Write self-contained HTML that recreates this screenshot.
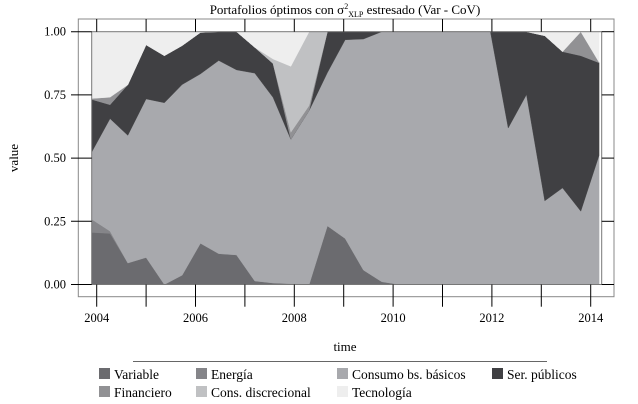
<!DOCTYPE html>
<html><head><meta charset="utf-8"><style>
body{margin:0;background:#fff;width:638px;height:404px;overflow:hidden}
svg{display:block;font-family:"Liberation Serif",serif}
</style></head><body>
<svg id="chart" width="638" height="404" viewBox="0 0 638 404">
<text x="345" y="14" text-anchor="middle" font-size="13">Portafolios óptimos con σ<tspan dy="-5" font-size="8">2</tspan><tspan dy="8" font-size="8">XLP</tspan><tspan dy="-3"> estresado (Var - CoV)</tspan></text>
<rect x="78.3" y="19" width="535.7" height="277.7" fill="none" stroke="#888" stroke-width="1"/>
<g id="areas"></g>
<rect x="91.7" y="31.7" width="510" height="252.8" fill="none" stroke="#777" stroke-width="1"/>
<g id="axes" stroke="#000" stroke-width="1"></g>
<text x="18" y="158" transform="rotate(-90 18 158)" text-anchor="middle" font-size="13">value</text>
<text x="345" y="351" text-anchor="middle" font-size="13">time</text>
<line x1="133" y1="361.5" x2="547" y2="361.5" stroke="#666" stroke-width="1"/>
<g id="legend"></g>
</svg>
<script>
const times=[2003.9,2004.27,2004.63,2005.0,2005.37,2005.73,2006.1,2006.47,2006.83,2007.2,2007.57,2007.93,2008.3,2008.67,2009.03,2009.4,2009.77,2010.13,2010.5,2010.87,2011.23,2011.6,2011.97,2012.33,2012.7,2013.07,2013.43,2013.8,2014.17];
const seriesNames=["Variable","Energía","Consumo bs. básicos","Ser. públicos","Financiero","Cons. discrecional","Tecnología"];
const variable=[0.206,0.202,0.085,0.107,0,0.037,0.163,0.122,0.117,0.014,0.006,0.003,0,0.232,0.182,0.057,0.011,0,0,0,0,0,0,0,0,0,0,0,0];
const energia=[0.052,0.009,0,0,0,0,0,0,0,0,0,0,0,0,0,0,0,0,0,0,0,0,0,0,0,0,0,0,0];
const consumo=[0.266,0.445,0.505,0.627,0.719,0.754,0.670,0.764,0.732,0.822,0.734,0.571,0.688,0.606,0.786,0.914,0.989,1,1,1,1,1,1,0.619,0.751,0.331,0.382,0.290,0.511];
const serPublicos=[0.208,0.055,0.200,0.214,0.186,0.154,0.164,0.114,0.151,0.102,0.134,0,0,0.162,0.032,0.029,0,0,0,0,0,0,0,0.381,0.249,0.653,0.539,0.615,0.366];
const financiero=[0.004,0.030,0,0,0,0,0,0,0,0,0,0.028,0.020,0,0,0,0,0,0,0,0,0,0,0,0,0,0,0.095,0.002];
const consDisc=[0,0,0,0,0,0,0,0,0,0,0.018,0.261,0.292,0,0,0,0,0,0,0,0,0,0,0,0,0,0,0,0];
const tecnologia=[0.264,0.259,0.210,0.052,0.095,0.055,0.003,0,0,0.062,0.108,0.137,0,0,0,0,0,0,0,0,0,0,0,0,0,0.016,0.079,0,0.121];
const yTicks=[0,0.25,0.5,0.75,1];
const yTickLabels=["0.00","0.25","0.50","0.75","1.00"];
const xTicks=[2004,2005,2006,2007,2008,2009,2010,2011,2012,2013,2014];
const xLabelYears=[2004,2006,2008,2010,2012,2014];

const colors=["#6b6b6f","#858589","#a8a9ad","#404043","#919194","#c0c1c3","#eeeeee"];
const slugs=["variable","energia","consumo","ser-publicos","financiero","cons-discrecional","tecnologia"];
const NS="http://www.w3.org/2000/svg";
function xs(t){return 96.7+(t-2004)*49.4;}
function ys(v){return 284.5-v*252.8;}
const layers=[variable,energia,consumo,serPublicos,financiero,consDisc,tecnologia];
const areas=document.getElementById('areas');
let base=times.map(()=>0);
layers.forEach((arr,k)=>{
  const top=base.map((b,i)=>b+arr[i]);
  let d="";
  times.forEach((t,i)=>{d+=(i?"L":"M")+xs(t).toFixed(2)+","+ys(top[i]).toFixed(2);});
  for(let i=times.length-1;i>=0;i--){d+="L"+xs(times[i]).toFixed(2)+","+ys(base[i]).toFixed(2);}
  d+="Z";
  const p=document.createElementNS(NS,'path');
  p.setAttribute('d',d);p.setAttribute('fill',colors[k]);
  p.setAttribute('stroke',colors[k]);p.setAttribute('stroke-width','0.4');
  
  
  areas.appendChild(p);
  base=top;
});
const axes=document.getElementById('axes');
function line(x1,y1,x2,y2,name){
  const l=document.createElementNS(NS,'line');
  l.setAttribute('x1',x1);l.setAttribute('y1',y1);l.setAttribute('x2',x2);l.setAttribute('y2',y2);
  
  
  axes.appendChild(l);
}
function text(x,y,s,anchor,name,parent,size){
  const t=document.createElementNS(NS,'text');
  t.setAttribute('x',x);t.setAttribute('y',y);t.setAttribute('text-anchor',anchor);
  t.setAttribute('font-size',size||'12.5');t.setAttribute('stroke','none');t.setAttribute('fill','#000');
  t.textContent=s;
  
  
  (parent||axes).appendChild(t);
}
yTicks.forEach((v,i)=>{
  const y=ys(v);
  line(71,y,91.7,y,'y-tick-left');
  line(601.7,y,614,y,'y-tick-right');
  text(66,y+4,yTickLabels[i],'end','y-tick-label');
});
xTicks.forEach(t=>{
  const x=xs(t);
  line(x,284.5,x,306.7,'x-tick-bottom');
  line(x,19,x,31.7,'x-tick-top');
});
xLabelYears.forEach(t=>{text(xs(t),322,String(t),'middle','x-tick-label');});
const legend=document.getElementById('legend');
const lx=[99,196,337,492],lrow=[379,397];
seriesNames.forEach((n,k)=>{
  const col=k%4,row=Math.floor(k/4);
  const r=document.createElementNS(NS,'rect');
  r.setAttribute('x',lx[col]);r.setAttribute('y',lrow[row]-11);
  r.setAttribute('width',11);r.setAttribute('height',11);r.setAttribute('fill',colors[k]);
  
  
  legend.appendChild(r);
  text(lx[col]+15,lrow[row],n,'start','legend-label-'+slugs[k],legend,'13.5');
});
</script>
</body></html>
